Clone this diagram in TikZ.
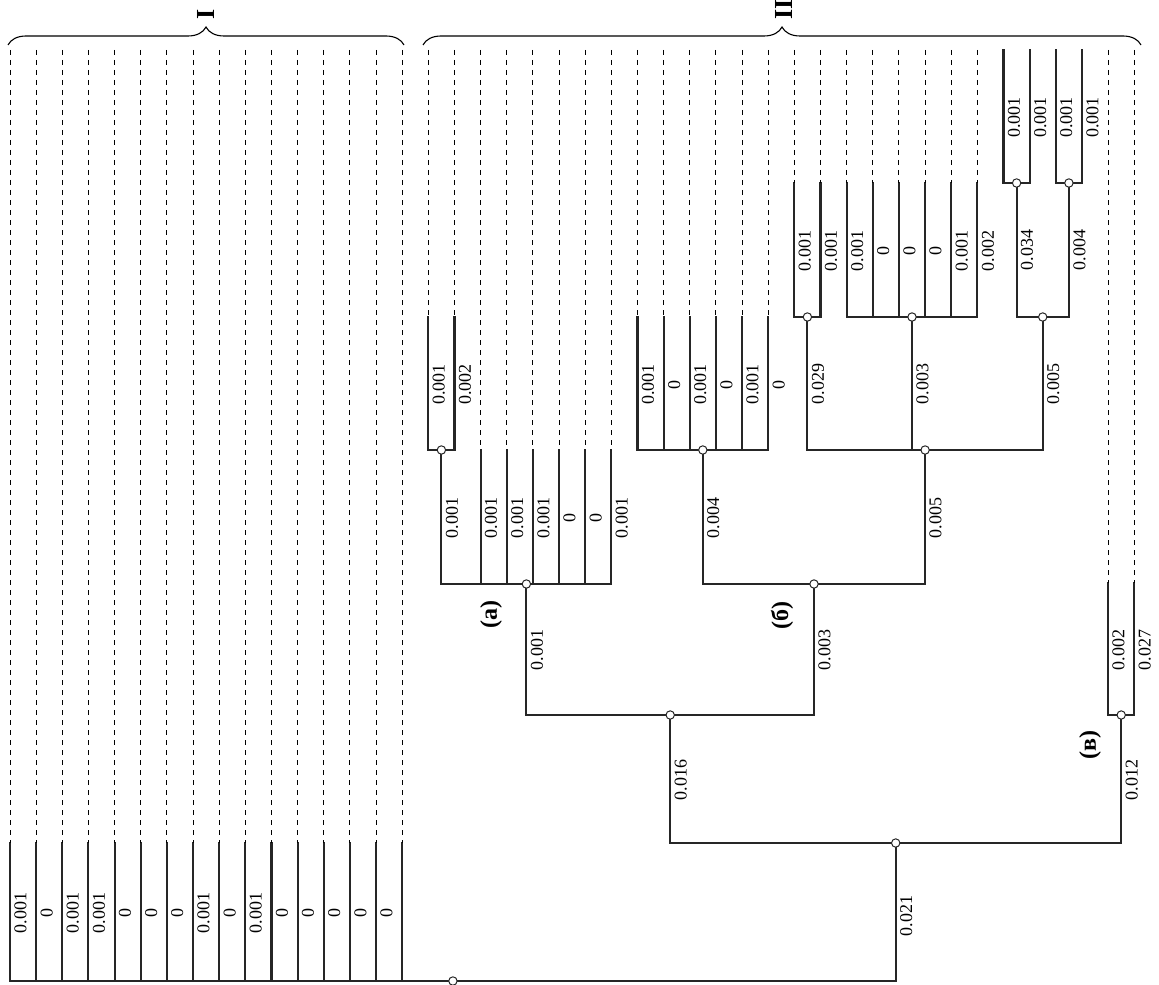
\documentclass[tikz,border=0pt]{standalone}
\usepackage{fontspec}
\setmainfont{Liberation Serif}
\usetikzlibrary{decorations.pathreplacing,calc}

\begin{document}
\begin{tikzpicture}[x=0.5pt, y=-0.5pt, every node/.style={font=\fontsize{9}{10}\selectfont},
	branch/.style={line width=1.05pt, black!85, line cap=rect},
	stub/.style={line width=0.5pt, dash pattern=on 2.5pt off 2.5pt},
	junct/.style={circle, draw=black!85, fill=white, line width=0.5pt, inner sep=0pt, minimum size=4.2pt},
	val/.style={rotate=90, anchor=north, inner sep=2pt},
	tag/.style={rotate=90, font=\fontsize{12}{13}\selectfont\bfseries},
	grp/.style={rotate=90, anchor=west, inner sep=0pt, font=\fontsize{13}{14}\selectfont\bfseries}]
	\useasboundingbox (0,0) rectangle (1159,984);
	\draw[decorate, decoration={brace, amplitude=9pt}, line width=0.55pt] (8,45) -- (404,45);
	\draw[decorate, decoration={brace, amplitude=9pt}, line width=0.55pt] (423,45) -- (1141,45);
	\node[grp] (gI) at (205.5,20) {I};
	\node[grp] (gII) at (784,20) {II};
	
	\foreach \i/\b/\t/\v in {0/981/843/0.001, 1/981/843/0, 2/981/843/0.001, 3/981/843/0.001,
		4/981/843/0, 5/981/843/0, 6/981/843/0, 7/981/843/0.001, 8/981/843/0, 9/981/843/0.001,
		10/981/843/0, 11/981/843/0, 12/981/843/0, 13/981/843/0, 14/981/843/0, 15/981/843/{},
		16/450/317/0.001, 17/450/317/0.002,
		18/584/450/0.001, 19/584/450/0.001, 20/584/450/0.001, 21/584/450/0, 22/584/450/0, 23/584/450/0.001,
		24/450/317/0.001, 25/450/317/0, 26/450/317/0.001, 27/450/317/0, 28/450/317/0.001, 29/450/317/0,
		30/317/183/0.001, 31/317/183/0.001,
		32/317/183/0.001, 33/317/183/0, 34/317/183/0, 35/317/183/0, 36/317/183/0.001, 37/317/183/0.002,
		38/183/50/0.001, 39/183/50/0.001, 40/183/50/0.001, 41/183/50/0.001,
		42/715/583/0.002, 43/715/583/0.027} {
		\pgfmathsetmacro{\x}{10+26.145*\i}
		\coordinate (b\i) at (\x,\b);
		\coordinate (t\i) at (\x,\t);
		\coordinate (e\i) at (\x,50);
		\draw[branch] (b\i) -- (t\i);
		\ifnum\t>50 \draw[stub] (e\i) -- (t\i); \fi
		\node[val] (v\i) at (\x,{(\b+\t)/2+1}) {\v};
	}
	
	\coordinate (root) at (452.9,981);
	\coordinate (g2) at (895.7,843);
	\coordinate (ab) at (670.2,715);
	\coordinate (cv) at (1121.2,715);
	\coordinate (ca) at (526.4,584);
	\coordinate (cb) at (814,584);
	\coordinate (ca2) at (441.4,450);
	\coordinate (cb1) at (702.8,450);
	\coordinate (cb2) at (925.1,450);
	\coordinate (cb21) at (807.4,317);
	\coordinate (cb22) at (912,317);
	\coordinate (cb23) at (1042.7,317);
	\coordinate (cb231) at (1016.6,183);
	\coordinate (cb232) at (1068.9,183);
	
	\draw[branch] (b0) -| (g2);
	\draw[branch] (ab) |- (g2) -| (cv);
	\draw[branch] (ca) |- (ab) -| (cb);
	\draw[branch] (b42) -- (b43);
	\draw[branch] (ca2) |- (b23);
	\draw[branch] (b16) -- (b17);
	\draw[branch] (cb1) |- (cb) -| (cb2);
	\draw[branch] (b24) -- (b29);
	\draw[branch] (cb21) |- (cb2) -| (cb23);
	\draw[branch] (cb22) -- (cb22 |- cb2);
	\draw[branch] (b30) -- (b31);
	\draw[branch] (b32) -- (b37);
	\draw[branch] (cb231) |- (cb23) -| (cb232);
	\draw[branch] (b38) -- (b39);
	\draw[branch] (b40) -- (b41);
	
	\foreach \n in {root,g2,ab,cv,ca,cb,ca2,cb1,cb2,cb21,cb22,cb23,cb231,cb232}
		\node[junct] (j\n) at (\n) {};
	
	\node[val] (w-g2) at ($(g2)+(0,73)$) {0.021};
	\node[val] (w-ab) at ($(ab)+(0,65)$) {0.016};
	\node[val] (w-cv) at ($(cv)+(0,65)$) {0.012};
	\node[val] (w-ca) at ($(ca)+(0,66)$) {0.001};
	\node[val] (w-cb) at ($(cb)+(0,66)$) {0.003};
	\node[val] (w-ca2) at ($(ca2)+(0,68)$) {0.001};
	\node[val] (w-cb1) at ($(cb1)+(0,68)$) {0.004};
	\node[val] (w-cb2) at ($(cb2)+(0,68)$) {0.005};
	\node[val] (w-cb21) at ($(cb21)+(0,67)$) {0.029};
	\node[val] (w-cb22) at ($(cb22)+(0,67)$) {0.003};
	\node[val] (w-cb23) at ($(cb23)+(0,67)$) {0.005};
	\node[val] (w-cb231) at ($(cb231)+(0,67)$) {0.034};
	\node[val] (w-cb232) at ($(cb232)+(0,67)$) {0.004};
	
	\node[tag] (la) at (491,614) {(а)};
	\node[tag] (lb) at (782,615) {(б)};
	\node[tag] (lv) at (1090,745) {(в)};
\end{tikzpicture}
\end{document}
